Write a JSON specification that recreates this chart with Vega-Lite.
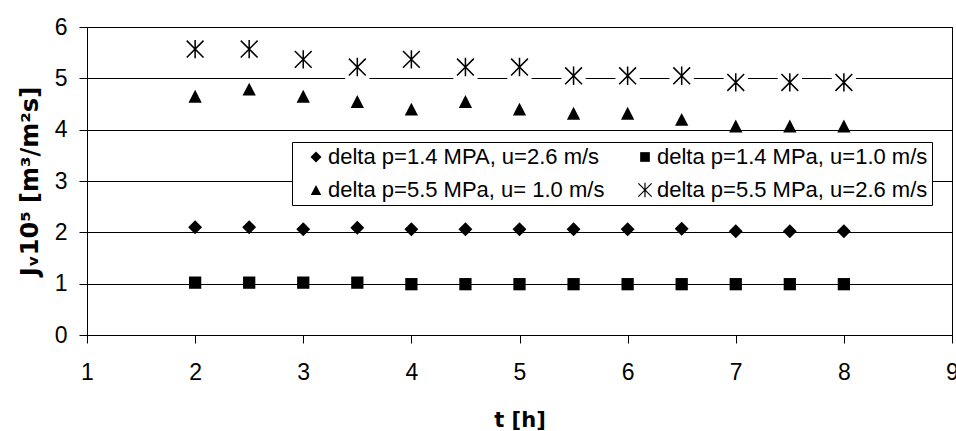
{
  "$schema": "https://vega.github.io/schema/vega-lite/v6.json",
  "width": 865,
  "height": 308,
  "autosize": "none",
  "padding": {"left": 87, "top": 27, "right": 4, "bottom": 96},
  "background": "white",
  "config": {
    "font": "Liberation Sans",
    "view": {"stroke": "black", "strokeWidth": 1}
  },
  "data": {
    "values": [
      {"t": 2, "series": "delta p=1.4 MPA, u=2.6 m/s", "v": 2.1},
      {"t": 2.5, "series": "delta p=1.4 MPA, u=2.6 m/s", "v": 2.1},
      {"t": 3, "series": "delta p=1.4 MPA, u=2.6 m/s", "v": 2.06},
      {"t": 3.5, "series": "delta p=1.4 MPA, u=2.6 m/s", "v": 2.09},
      {"t": 4, "series": "delta p=1.4 MPA, u=2.6 m/s", "v": 2.06},
      {"t": 4.5, "series": "delta p=1.4 MPA, u=2.6 m/s", "v": 2.06},
      {"t": 5, "series": "delta p=1.4 MPA, u=2.6 m/s", "v": 2.06},
      {"t": 5.5, "series": "delta p=1.4 MPA, u=2.6 m/s", "v": 2.06},
      {"t": 6, "series": "delta p=1.4 MPA, u=2.6 m/s", "v": 2.06},
      {"t": 6.5, "series": "delta p=1.4 MPA, u=2.6 m/s", "v": 2.07},
      {"t": 7, "series": "delta p=1.4 MPA, u=2.6 m/s", "v": 2.02},
      {"t": 7.5, "series": "delta p=1.4 MPA, u=2.6 m/s", "v": 2.02},
      {"t": 8, "series": "delta p=1.4 MPA, u=2.6 m/s", "v": 2.02},
      {"t": 2, "series": "delta p=1.4 MPa, u=1.0 m/s", "v": 1.02},
      {"t": 2.5, "series": "delta p=1.4 MPa, u=1.0 m/s", "v": 1.02},
      {"t": 3, "series": "delta p=1.4 MPa, u=1.0 m/s", "v": 1.02},
      {"t": 3.5, "series": "delta p=1.4 MPa, u=1.0 m/s", "v": 1.02},
      {"t": 4, "series": "delta p=1.4 MPa, u=1.0 m/s", "v": 0.99},
      {"t": 4.5, "series": "delta p=1.4 MPa, u=1.0 m/s", "v": 0.99},
      {"t": 5, "series": "delta p=1.4 MPa, u=1.0 m/s", "v": 0.99},
      {"t": 5.5, "series": "delta p=1.4 MPa, u=1.0 m/s", "v": 0.99},
      {"t": 6, "series": "delta p=1.4 MPa, u=1.0 m/s", "v": 0.99},
      {"t": 6.5, "series": "delta p=1.4 MPa, u=1.0 m/s", "v": 0.99},
      {"t": 7, "series": "delta p=1.4 MPa, u=1.0 m/s", "v": 0.99},
      {"t": 7.5, "series": "delta p=1.4 MPa, u=1.0 m/s", "v": 0.99},
      {"t": 8, "series": "delta p=1.4 MPa, u=1.0 m/s", "v": 0.99},
      {"t": 2, "series": "delta p=5.5 MPa, u= 1.0 m/s", "v": 4.65},
      {"t": 2.5, "series": "delta p=5.5 MPa, u= 1.0 m/s", "v": 4.79},
      {"t": 3, "series": "delta p=5.5 MPa, u= 1.0 m/s", "v": 4.65},
      {"t": 3.5, "series": "delta p=5.5 MPa, u= 1.0 m/s", "v": 4.55},
      {"t": 4, "series": "delta p=5.5 MPa, u= 1.0 m/s", "v": 4.4},
      {"t": 4.5, "series": "delta p=5.5 MPa, u= 1.0 m/s", "v": 4.55},
      {"t": 5, "series": "delta p=5.5 MPa, u= 1.0 m/s", "v": 4.4},
      {"t": 5.5, "series": "delta p=5.5 MPa, u= 1.0 m/s", "v": 4.32},
      {"t": 6, "series": "delta p=5.5 MPa, u= 1.0 m/s", "v": 4.32},
      {"t": 6.5, "series": "delta p=5.5 MPa, u= 1.0 m/s", "v": 4.2},
      {"t": 7, "series": "delta p=5.5 MPa, u= 1.0 m/s", "v": 4.07},
      {"t": 7.5, "series": "delta p=5.5 MPa, u= 1.0 m/s", "v": 4.07},
      {"t": 8, "series": "delta p=5.5 MPa, u= 1.0 m/s", "v": 4.07},
      {"t": 2, "series": "delta p=5.5 MPa, u=2.6 m/s", "v": 5.57},
      {"t": 2.5, "series": "delta p=5.5 MPa, u=2.6 m/s", "v": 5.57},
      {"t": 3, "series": "delta p=5.5 MPa, u=2.6 m/s", "v": 5.37},
      {"t": 3.5, "series": "delta p=5.5 MPa, u=2.6 m/s", "v": 5.22},
      {"t": 4, "series": "delta p=5.5 MPa, u=2.6 m/s", "v": 5.37},
      {"t": 4.5, "series": "delta p=5.5 MPa, u=2.6 m/s", "v": 5.22},
      {"t": 5, "series": "delta p=5.5 MPa, u=2.6 m/s", "v": 5.22},
      {"t": 5.5, "series": "delta p=5.5 MPa, u=2.6 m/s", "v": 5.05},
      {"t": 6, "series": "delta p=5.5 MPa, u=2.6 m/s", "v": 5.05},
      {"t": 6.5, "series": "delta p=5.5 MPa, u=2.6 m/s", "v": 5.05},
      {"t": 7, "series": "delta p=5.5 MPa, u=2.6 m/s", "v": 4.92},
      {"t": 7.5, "series": "delta p=5.5 MPa, u=2.6 m/s", "v": 4.92},
      {"t": 8, "series": "delta p=5.5 MPa, u=2.6 m/s", "v": 4.92}
    ]
  },
  "encoding": {
    "x": {
      "field": "t",
      "type": "quantitative",
      "scale": {"domain": [1, 9], "nice": false},
      "axis": {
        "title": "t [h]",
        "values": [1, 2, 3, 4, 5, 6, 7, 8, 9],
        "grid": false,
        "domainColor": "black",
        "tickColor": "black",
        "tickSize": 8,
        "labelFontSize": 23,
        "labelColor": "black",
        "labelPadding": 18,
        "labelFlush": false,
        "titleFont": "DejaVu Sans",
        "titleFontSize": 21,
        "titleFontWeight": "bold",
        "titleColor": "black",
        "titlePadding": 25
      }
    },
    "y": {
      "field": "v",
      "type": "quantitative",
      "scale": {"domain": [0, 6], "nice": false},
      "axis": {
        "title": "Jᵥ10⁵ [m³/m²s]",
        "values": [0, 1, 2, 3, 4, 5, 6],
        "grid": true,
        "gridColor": "black",
        "gridOpacity": 1,
        "gridWidth": 1,
        "domainColor": "black",
        "tickColor": "black",
        "tickSize": 8,
        "labelFontSize": 23,
        "labelColor": "black",
        "labelPadding": 12,
        "labelFlush": false,
        "titleFont": "DejaVu Sans",
        "titleFontSize": 24,
        "titleFontWeight": "bold",
        "titleColor": "black",
        "titlePadding": 12
      }
    }
  },
  "layer": [
    {
      "transform": [{"filter": "datum.series === 'delta p=5.5 MPa, u=2.6 m/s'"}],
      "mark": {"type": "point", "shape": "square", "filled": true, "fill": "white", "strokeWidth": 0, "size": 590, "opacity": 1}
    },
    {
      "mark": {"type": "point", "filled": true, "fill": "black", "strokeWidth": 0, "opacity": 1, "size": 160},
      "encoding": {
        "shape": {
          "field": "series",
          "type": "nominal",
          "scale": {
            "domain": ["delta p=1.4 MPA, u=2.6 m/s", "delta p=5.5 MPa, u= 1.0 m/s", "delta p=1.4 MPa, u=1.0 m/s", "delta p=5.5 MPa, u=2.6 m/s"],
            "range": [
              "M-1.1,0L0,-1.1L1.1,0L0,1.1Z",
              "M0,-1.02L1.05,1.02L-1.05,1.02Z",
              "M-0.97,-0.97L0.97,-0.97L0.97,0.97L-0.97,0.97Z",
              "M-1.245,-1.415L1.415,1.245L1.245,1.415L-1.415,-1.245ZM-1.415,1.245L1.245,-1.415L1.415,-1.245L-1.245,1.415ZM-0.12,-1.45L0.12,-1.45L0.12,1.45L-0.12,1.45Z"
            ]
          },
          "legend": {
            "title": null,
            "orient": "none",
            "legendX": 205,
            "legendY": 115,
            "columns": 2,
            "columnPadding": 20,
            "rowPadding": 11,
            "padding": 4,
            "symbolOffset": 9,
            "strokeColor": "black",
            "fillColor": "white",
            "labelFontSize": 22,
            "labelColor": "black",
            "labelLimit": 400,
            "labelOffset": 1,
            "symbolSize": 100,
            "symbolFillColor": "black",
            "symbolStrokeWidth": 0,
            "symbolOpacity": 1
          }
        }
      }
    }
  ]
}
